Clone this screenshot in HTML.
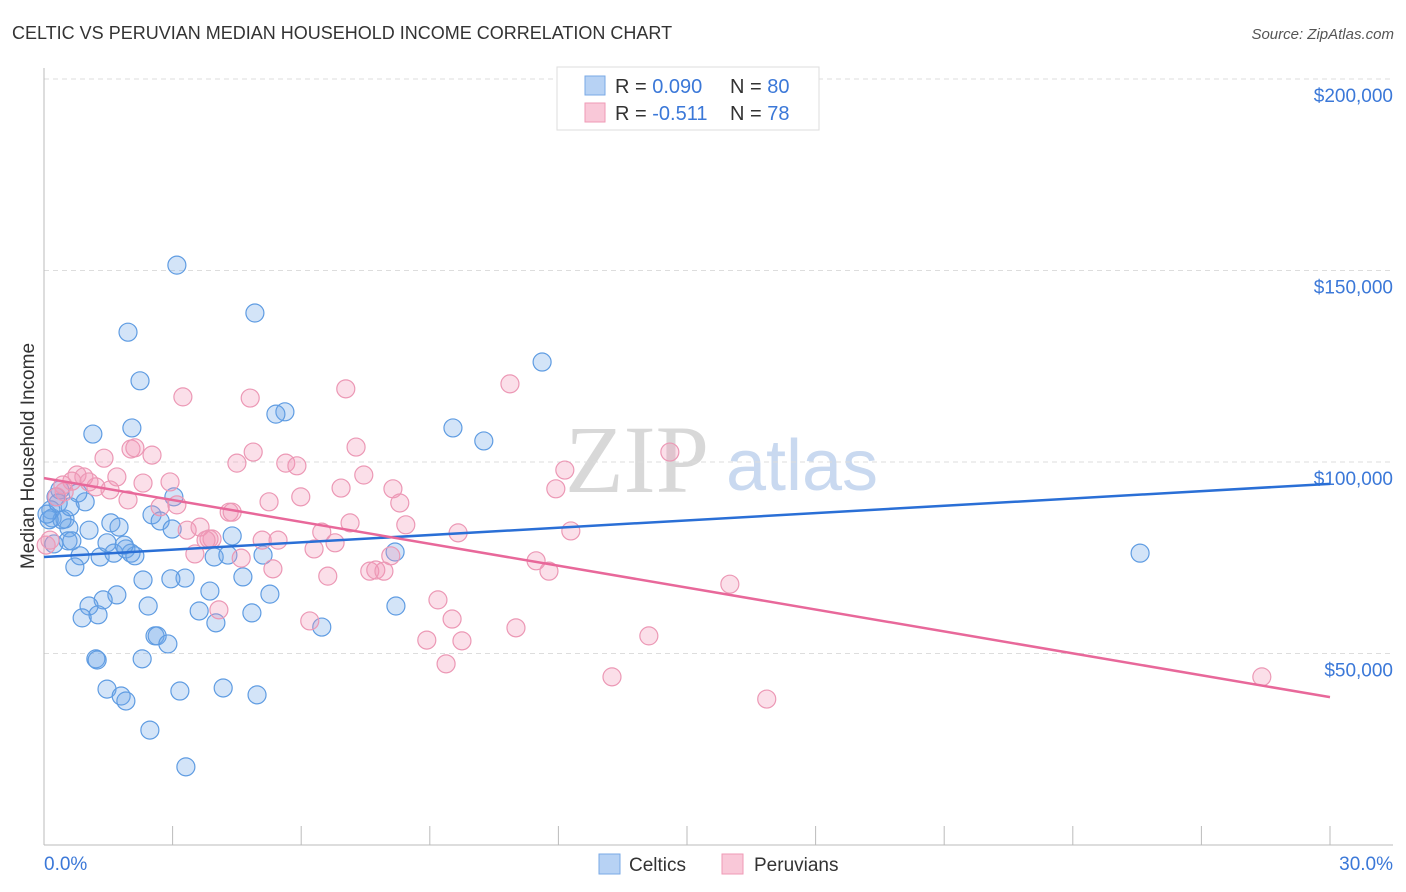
<!DOCTYPE html>
<html><head><meta charset="utf-8"><style>
body{margin:0;background:#fff;font-family:"Liberation Sans",sans-serif;}
#wrap{position:relative;width:1406px;height:892px;overflow:hidden;}
</style></head><body>
<div id="wrap">
<svg id="svg" width="1406" height="892" xmlns="http://www.w3.org/2000/svg">
<text x="12" y="39" font-size="18" fill="#333">CELTIC VS PERUVIAN MEDIAN HOUSEHOLD INCOME CORRELATION CHART</text>
<text x="1394" y="39" font-size="15" fill="#555" font-style="italic" text-anchor="end">Source: ZipAtlas.com</text>
<text x="637" y="492" font-size="96" fill="#d8d8d8" font-family="Liberation Serif,serif" text-anchor="middle">ZIP</text>
<text x="802" y="490" font-size="72" fill="#c9d9f0" text-anchor="middle">atlas</text>
<text x="34" y="456" font-size="19" fill="#333" text-anchor="middle" transform="rotate(-90 34 456)">Median Household Income</text>
<g id="grid"></g><g id="axes"></g><g id="pts"></g><g id="lines"></g>
<g>
<rect x="557" y="67" width="262" height="63" fill="#fff" stroke="#ddd"/>
<rect x="585" y="76" width="20" height="19" fill="#b7d2f4" stroke="#7aa9e6"/>
<rect x="585" y="103" width="20" height="19" fill="#f9c8d8" stroke="#ef9ab6"/>
<text x="615" y="93" font-size="20" fill="#333">R = <tspan fill="#3b78d8">0.090</tspan></text>
<text x="730" y="93" font-size="20" fill="#333">N = <tspan fill="#3b78d8">80</tspan></text>
<text x="615" y="120" font-size="20" fill="#333">R = <tspan fill="#3b78d8">-0.511</tspan></text>
<text x="730" y="120" font-size="20" fill="#333">N = <tspan fill="#3b78d8">78</tspan></text>
</g>
<g>
<rect x="599" y="854" width="21" height="20" fill="#b7d2f4" stroke="#7aa9e6"/>
<text x="629" y="871" font-size="19" fill="#333">Celtics</text>
<rect x="722" y="854" width="21" height="20" fill="#f9c8d8" stroke="#ef9ab6"/>
<text x="754" y="871" font-size="19" fill="#333">Peruvians</text>
</g>
</svg></div>
<script>
const yTicks=[50,100,150,200];
const yTickLabels=["$50,000","$100,000","$150,000","$200,000"];
const xTicks=[0,3,6,9,12,15,18,21,24,27,30];
const celticsX=[3.10,4.92,1.96,2.24,11.62,5.62,5.41,1.14,2.05,9.54,10.26,25.57,8.19,8.21,6.48,3.03,2.52,2.71,2.99,1.56,1.75,1.05,0.96,0.79,0.37,0.28,0.16,0.19,0.49,0.58,0.56,0.84,0.72,1.31,1.47,1.63,1.91,2.03,2.12,1.87,4.39,3.97,4.29,5.11,4.64,3.87,3.29,2.96,2.31,1.70,1.38,1.05,1.26,0.89,2.43,3.62,4.01,4.85,5.27,2.59,2.64,2.89,2.29,1.21,1.24,1.47,1.80,1.91,3.17,4.18,4.97,2.47,3.31,0.65,0.42,0.12,0.23,0.07,0.33,0.61];
const celticsY=[151.4,138.9,133.9,121.2,126.1,113.1,112.5,107.3,108.9,108.9,105.5,76.2,76.5,62.4,56.9,90.9,86.2,84.6,82.5,84.1,83.0,82.2,89.6,91.9,92.7,90.9,87.5,85.4,85.1,82.8,79.4,75.5,72.6,75.2,78.9,76.2,77.3,76.2,75.5,78.3,80.7,75.2,75.7,75.7,70.0,66.3,69.7,69.5,69.2,65.3,64.0,62.4,60.1,59.3,62.4,61.1,58.0,60.6,65.5,54.6,54.6,52.5,48.6,48.6,48.3,40.7,38.9,37.6,40.2,41.0,39.2,30.0,20.4,79.4,84.9,84.9,78.6,86.4,89.3,88.3];
const peruviansX=[3.24,4.81,7.04,10.87,14.60,12.15,7.28,4.50,4.88,5.64,5.90,2.03,2.12,2.52,1.40,0.77,0.93,0.65,1.70,2.31,2.94,1.21,1.54,1.96,0.47,0.30,0.44,1.05,2.71,3.10,4.32,4.39,5.25,5.99,6.93,7.46,8.14,11.94,8.30,8.44,7.14,6.48,3.34,3.64,3.85,3.92,3.78,3.52,4.60,5.09,5.46,6.30,6.79,8.09,9.66,12.29,11.48,11.78,5.34,6.62,7.60,7.74,7.93,9.19,9.52,6.20,4.08,8.93,9.75,11.01,14.11,16.00,9.38,13.25,16.86,28.41,0.05,0.14];
const peruviansY=[117.0,116.7,119.1,120.4,102.6,97.9,103.9,99.7,102.6,99.7,99.0,103.4,103.7,101.8,101.0,96.6,96.1,95.0,96.1,94.5,94.8,93.5,92.7,90.1,92.2,90.9,94.0,94.8,88.3,88.8,86.9,86.9,89.6,90.9,93.2,96.6,93.0,93.0,89.3,83.6,84.1,81.7,82.2,83.0,79.9,79.9,79.6,76.0,74.9,79.6,79.6,77.3,78.9,75.5,81.5,82.0,74.2,71.5,72.1,70.2,71.5,71.8,71.5,64.0,59.0,58.5,61.4,53.5,53.3,56.7,54.6,68.1,47.3,43.9,38.1,43.9,78.3,79.6];
const celticsTrend=[75.2,94.3];
const peruviansTrend=[95.8,38.6];

const NS="http://www.w3.org/2000/svg";
const X0=44,X1=1330,Y0=845,PXK=191.5/50;
function sx(p){return X0+(X1-X0)*p/30;}
function sy(k){return Y0-k*PXK;}
function mk(tag,attrs,parent){const e=document.createElementNS(NS,tag);for(const k in attrs)e.setAttribute(k,attrs[k]);document.getElementById(parent).appendChild(e);return e;}
yTicks.forEach((t,i)=>{
  const l=mk('line',{x1:X0,x2:1393,y1:sy(t),y2:sy(t),stroke:'#ddd','stroke-dasharray':'5,4'},'grid');
  
  
  const tx=mk('text',{x:1393,y:sy(t)+23,'font-size':19,fill:'#3b78d8','text-anchor':'end'},'grid');
  tx.textContent=yTickLabels[i];
  
  
});
const tl=mk('line',{x1:X0,x2:1393,y1:79,y2:79,stroke:'#ddd','stroke-dasharray':'5,4'},'grid');


const ya=mk('line',{x1:X0,x2:X0,y1:68,y2:Y0,stroke:'#bbb'},'axes');


const xa=mk('line',{x1:X0,x2:1393,y1:Y0,y2:Y0,stroke:'#bbb'},'axes');


xTicks.forEach(t=>{
  const l=mk('line',{x1:sx(t),x2:sx(t),y1:826,y2:Y0,stroke:'#bbb'},'axes');
  
  
});
const xl0=mk('text',{x:44,y:870,'font-size':19,fill:'#3b78d8'},'axes');xl0.textContent='0.0%';


const xl1=mk('text',{x:1393,y:870,'font-size':19,fill:'#3b78d8','text-anchor':'end'},'axes');xl1.textContent='30.0%';


function pts(xs,ys,fill,stroke,name){xs.forEach((x,i)=>{
  const c=mk('circle',{cx:sx(x),cy:sy(ys[i]),r:9,fill:fill,stroke:stroke,'stroke-width':1.2},'pts');
  
  
});}
pts(celticsX,celticsY,'rgba(110,165,232,0.3)','#5f9ce2','celtics-point');
pts(peruviansX,peruviansY,'rgba(242,150,182,0.3)','#ec98b5','peruvians-point');
const bl=mk('line',{x1:sx(0),x2:sx(30),y1:sy(celticsTrend[0]),y2:sy(celticsTrend[1]),stroke:'#2a6fd6','stroke-width':2.5},'lines');


const pl=mk('line',{x1:sx(0),x2:sx(30),y1:sy(peruviansTrend[0]),y2:sy(peruviansTrend[1]),stroke:'#e8689a','stroke-width':2.5},'lines');


</script>
</body></html>
